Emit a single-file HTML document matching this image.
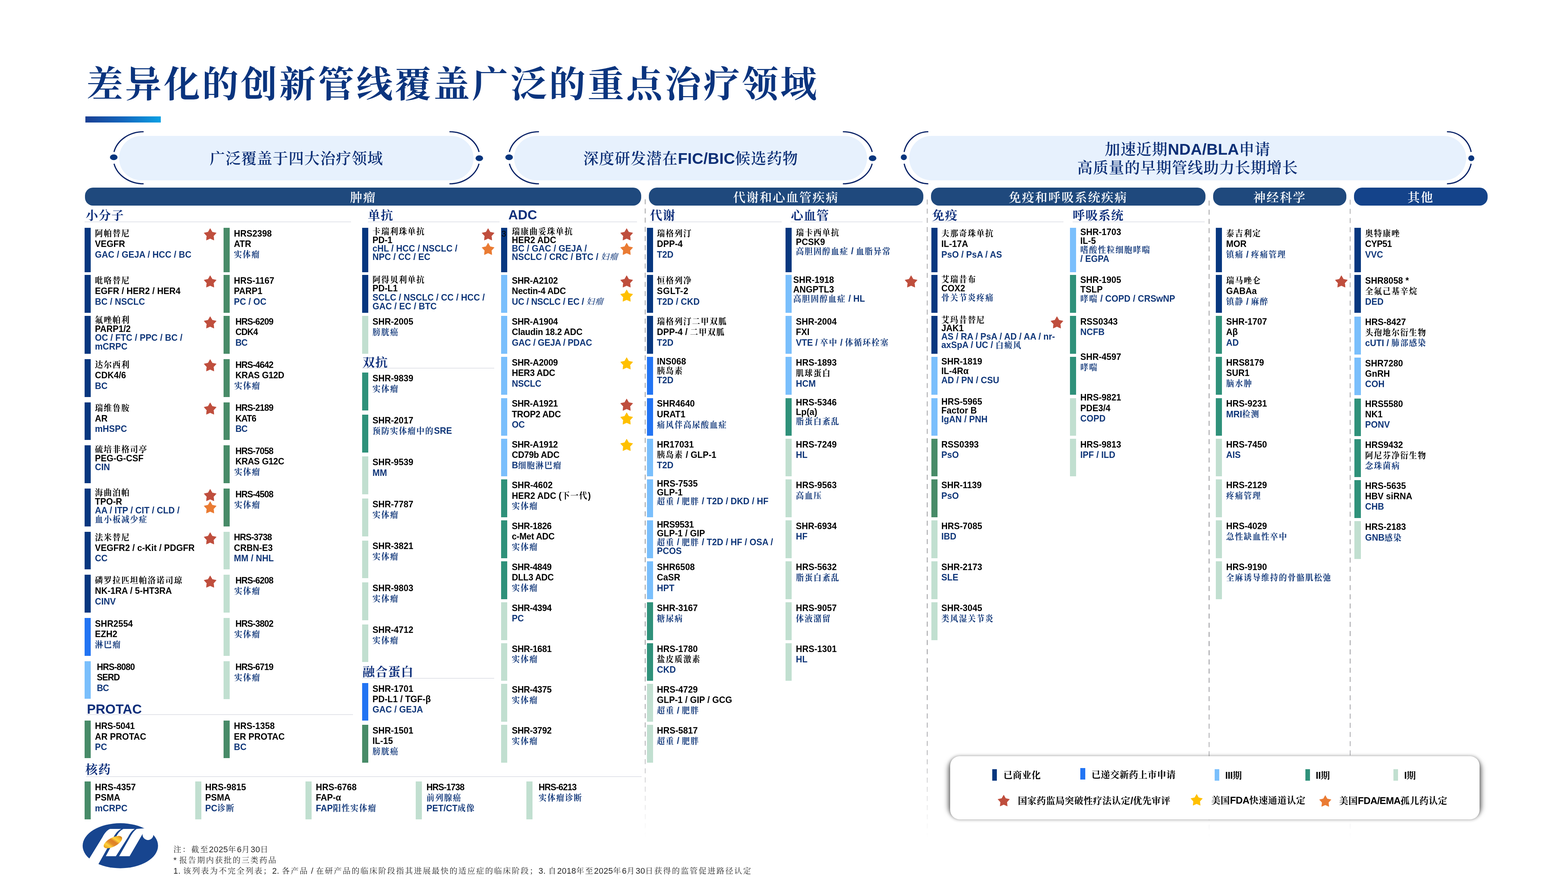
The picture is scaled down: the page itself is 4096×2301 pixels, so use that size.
<!DOCTYPE html>
<html lang="zh-CN"><head><meta charset="utf-8"><title>差异化的创新管线覆盖广泛的重点治疗领域</title>
<style>
html,body{margin:0;padding:0;background:#fff}
body{width:4096px;height:2301px;position:relative;overflow:hidden;will-change:transform;font-family:"Liberation Sans","Noto Serif CJK SC",sans-serif}
.abs{position:absolute}
.b{position:absolute}
.t{position:absolute;white-space:nowrap;font-size:23.6px;font-weight:700;color:#000;letter-spacing:0.05px;transform:scaleX(.965);transform-origin:0 0}
.t div{overflow:visible}
.t .i{color:#0e3578}
.c{font-family:"Noto Serif CJK SC",serif;font-weight:700;font-size:21.6px;line-height:1px;letter-spacing:2.2px;position:relative;top:-0.6px}
.cb{font-family:"Noto Serif CJK SC",serif;font-weight:700;line-height:1px}
.ck{font-family:"Noto Serif CJK SC",serif;font-weight:600;line-height:1px}
.s{position:absolute;overflow:visible}
.title{position:absolute;left:226px;top:145px;font-family:"Noto Serif CJK SC",serif;font-weight:700;font-size:95px;line-height:136px;letter-spacing:5.7px;color:#0a347e;white-space:nowrap}
.tbar{position:absolute;left:223.4px;top:303.7px;width:196.4px;height:16.7px;background:linear-gradient(90deg,#1a3f93 0%,#1466bd 50%,#0aa0e4 100%)}
.pill{position:absolute;top:354.9px;height:116px;border-radius:58px;background:#e7f1fd;display:flex;align-items:center;justify-content:center}
.pt{font-family:"Liberation Sans","Noto Serif CJK SC",sans-serif;font-weight:700;font-size:41px;line-height:48.5px;color:#0c2f76;text-align:center;white-space:nowrap;letter-spacing:0.2px}
.pt .ck{font-size:40px;letter-spacing:1.2px}
.pt{position:relative;top:1.5px}
.hd{position:absolute;top:490px;height:46.6px;border-radius:21px;color:#fff;font-family:"Noto Serif CJK SC",serif;font-weight:600;font-size:32px;line-height:46px;text-align:center;letter-spacing:2.5px;white-space:nowrap}
.sh{position:absolute;font-family:"Noto Serif CJK SC",serif;font-weight:700;font-size:32px;line-height:36px;color:#0e2f7b;white-space:nowrap;letter-spacing:1.5px}
.sh.l{font-family:"Liberation Sans",sans-serif;font-size:34.6px;letter-spacing:0}
.ul{position:absolute;height:1.4px;background:#c6c9d5}
.sup3{position:absolute;font-family:"Liberation Sans",sans-serif;font-size:22px;line-height:26px;color:#000}
.lsh{position:absolute;left:2483.5px;top:1990.5px;width:1379px;height:133.3px;border-radius:18px;background:rgba(0,0,0,.5);box-shadow:0 0 14px 7px rgba(0,0,0,.5)}
.lbox{position:absolute;left:2481.5px;top:1974.5px;width:1383px;height:165.3px;border-radius:25px;background:#fff;box-shadow:0 0 9px 1px rgba(0,0,0,.3)}
.lg{position:absolute;font-family:"Liberation Sans","Noto Serif CJK SC",sans-serif;font-weight:700;font-size:25.4px;line-height:30px;color:#000;white-space:nowrap;letter-spacing:-0.6px}
.lg .cb{letter-spacing:0.5px;font-size:24px}
.fn{position:absolute;left:453px;font-family:"Liberation Sans","Noto Serif CJK SC",sans-serif;font-size:21.5px;line-height:28px;color:#262626;white-space:nowrap}
.fn{letter-spacing:0.5px}
.fn .c{font-size:20.5px;font-weight:400;letter-spacing:2.75px;top:0}
</style></head>
<body>
<div class="title">差异化的创新管线覆盖广泛的重点治疗领域</div>
<div class="tbar"></div>
<div class="pill" style="left:311.3px;width:926.1px"><div class="pt"><span class="ck">广泛覆盖于四大治疗领域</span></div></div>
<div class="pill" style="left:1343.4px;width:922.0px"><div class="pt"><span class="ck">深度研发潜在</span>FIC/BIC<span class="ck">候选药物</span></div></div>
<div class="pill" style="left:2375.0px;width:1455.0px"><div class="pt"><span class="ck">加速近期</span>NDA/BLA<span class="ck">申请</span><br><span class="ck">高质量的早期管线助力长期增长</span></div></div>
<svg class="abs" style="left:0;top:0" width="4096" height="560" viewBox="0 0 4096 560" fill="none" stroke="#0b2468" stroke-width="3.2"><path d="M375.2 344.0 A79.4 68.0 0 0 0 297.8 396.8"/><path d="M297.9 427.6 A79.4 68.0 0 0 0 375.2 480.0"/><ellipse cx="297.1" cy="410.8" rx="9.9" ry="7.5" fill="#07357d" stroke="none"/><path d="M1174.1 344.0 A79.3 68.0 0 0 1 1251.4 396.8"/><path d="M1251.3 427.6 A79.3 68.0 0 0 1 1174.1 480.0"/><ellipse cx="1252.1" cy="413.2" rx="9.9" ry="7.5" fill="#07357d" stroke="none"/><path d="M1407.9 344.0 A79.3 68.0 0 0 0 1330.6 396.8"/><path d="M1330.7 427.6 A79.3 68.0 0 0 0 1407.9 480.0"/><ellipse cx="1329.9" cy="410.8" rx="9.9" ry="7.5" fill="#07357d" stroke="none"/><path d="M2201.8 344.0 A78.6 68.0 0 0 1 2278.4 396.8"/><path d="M2278.3 427.6 A78.6 68.0 0 0 1 2201.8 480.0"/><ellipse cx="2279.4" cy="413.2" rx="9.9" ry="7.5" fill="#07357d" stroke="none"/><path d="M2425.0 344.0 A64.8 68.0 0 0 0 2361.8 396.8"/><path d="M2361.9 427.6 A64.8 68.0 0 0 0 2425.0 480.0"/><ellipse cx="2361.0" cy="410.8" rx="7.9" ry="7.5" fill="#07357d" stroke="none"/><path d="M3779.8 344.0 A64.8 68.0 0 0 1 3843.0 396.8"/><path d="M3842.9 427.6 A64.8 68.0 0 0 1 3779.8 480.0"/><ellipse cx="3843.4" cy="413.2" rx="7.9" ry="7.5" fill="#07357d" stroke="none"/></svg>
<svg class="abs" style="left:0;top:0" width="4096" height="2301" viewBox="0 0 4096 2301"><defs><linearGradient id="dg" gradientUnits="userSpaceOnUse" x1="0" y1="520" x2="0" y2="2190"><stop offset="0" stop-color="#bcbcbe"/><stop offset="0.7" stop-color="#a6a6aa"/><stop offset="0.86" stop-color="#a6a6aa"/><stop offset="1" stop-color="#a6a6aa" stop-opacity="0"/></linearGradient><clipPath id="tp0"><polygon points="1684.0,500 1687.0,500 1686.8,1700 1686.1,2200 1684.9,2200 1684.2,1700"/></clipPath><clipPath id="tp1"><polygon points="2420.7,500 2423.7,500 2423.5,1700 2422.8,2200 2421.6,2200 2420.9,1700"/></clipPath><clipPath id="tp2"><polygon points="3157.0,500 3160.0,500 3159.8,1700 3159.1,2200 3157.9,2200 3157.2,1700"/></clipPath><clipPath id="tp3"><polygon points="3525.5,500 3528.5,500 3528.3,1700 3527.6,2200 3526.4,2200 3525.7,1700"/></clipPath></defs><g stroke="url(#dg)" stroke-width="3.2" stroke-dasharray="13.1 10.87" fill="none"><line x1="1685.5" y1="520.5" x2="1685.5" y2="2190" clip-path="url(#tp0)"/><line x1="2422.2" y1="521.0" x2="2422.2" y2="2190" clip-path="url(#tp1)"/><line x1="3158.5" y1="523.8" x2="3158.5" y2="2190" clip-path="url(#tp2)"/><line x1="3527.0" y1="521.5" x2="3527.0" y2="2190" clip-path="url(#tp3)"/></g></svg>
<div class="hd" style="left:222.0px;width:1453.3px;background:#1f497d">肿瘤</div>
<div class="hd" style="left:1694.5px;width:717.7px;background:#1f497d">代谢和心血管疾病</div>
<div class="hd" style="left:2432.0px;width:716.7px;background:#1f497d">免疫和呼吸系统疾病</div>
<div class="hd" style="left:3168.6px;width:348.6px;background:#1f497d">神经科学</div>
<div class="hd" style="left:3536.8px;width:349.0px;background:#14438a">其他</div>
<div class="sh" style="left:224.0px;top:542.0px">小分子</div><div class="ul" style="left:221.0px;top:579.0px;width:696.0px"></div>
<div class="sh" style="left:961.0px;top:542.0px">单抗</div><div class="ul" style="left:960.6px;top:579.0px;width:344.4px"></div>
<div class="sh l" style="left:1328.0px;top:543.0px">ADC</div><div class="ul" style="left:1328.6px;top:579.0px;width:335.0px"></div>
<div class="sh" style="left:1698.0px;top:542.0px">代谢</div><div class="ul" style="left:1697.0px;top:579.0px;width:345.0px"></div>
<div class="sh" style="left:2066.0px;top:542.0px">心血管</div><div class="ul" style="left:2065.0px;top:579.0px;width:345.0px"></div>
<div class="sh" style="left:2435.0px;top:542.0px">免疫</div><div class="ul" style="left:2433.6px;top:579.0px;width:344.9px"></div>
<div class="sh" style="left:2802.0px;top:542.0px">呼吸系统</div><div class="ul" style="left:2802.0px;top:579.0px;width:344.5px"></div>
<div class="sh" style="left:947.0px;top:925.5px">双抗</div><div class="ul" style="left:946.0px;top:961.0px;width:345.0px"></div>
<div class="sh" style="left:947.0px;top:1734.0px">融合蛋白</div><div class="ul" style="left:946.0px;top:1771.0px;width:345.4px"></div>
<div class="sh l" style="left:227.0px;top:1833.5px">PROTAC</div><div class="ul" style="left:226.0px;top:1866.0px;width:696.0px"></div>
<div class="sh" style="left:223.0px;top:1989.0px">核药</div><div class="ul" style="left:225.0px;top:2028.0px;width:1450.7px"></div>
<div class="b" style="left:220.8px;top:595.0px;height:115.6px;width:16.2px;background:#07377f"></div>
<div class="t" style="left:248.0px;top:596.9px;line-height:27.40px"><div class="n" style="height:27.40px"><span class="c">阿帕替尼</span></div><div class="n" style="height:27.40px">VEGFR</div><div class="i" style="height:27.40px">GAC / GEJA / HCC / BC</div></div>
<div class="b" style="left:220.8px;top:718.0px;height:98.8px;width:16.2px;background:#07377f"></div>
<div class="t" style="left:248.0px;top:719.9px;line-height:27.40px"><div class="n" style="height:27.40px"><span class="c">吡咯替尼</span></div><div class="n" style="height:27.40px">EGFR / HER2 / HER4</div><div class="i" style="height:27.40px">BC / NSCLC</div></div>
<div class="b" style="left:220.8px;top:825.0px;height:98.8px;width:16.2px;background:#07377f"></div>
<div class="t" style="left:248.0px;top:824.5px;line-height:23.30px"><div class="n" style="height:23.30px"><span class="c">氟唑帕利</span></div><div class="n" style="height:23.30px">PARP1/2</div><div class="i" style="height:23.30px">OC / FTC / PPC / BC /</div><div class="i" style="height:23.30px">mCRPC</div></div>
<div class="b" style="left:220.8px;top:938.0px;height:98.8px;width:16.2px;background:#07377f"></div>
<div class="t" style="left:248.0px;top:939.9px;line-height:27.40px"><div class="n" style="height:27.40px"><span class="c">达尔西利</span></div><div class="n" style="height:27.40px">CDK4/6</div><div class="i" style="height:27.40px">BC</div></div>
<div class="b" style="left:220.8px;top:1050.5px;height:98.8px;width:16.2px;background:#07377f"></div>
<div class="t" style="left:248.0px;top:1052.4px;line-height:27.40px"><div class="n" style="height:27.40px"><span class="c">瑞维鲁胺</span></div><div class="n" style="height:27.40px">AR</div><div class="i" style="height:27.40px">mHSPC</div></div>
<div class="b" style="left:220.8px;top:1163.0px;height:98.8px;width:16.2px;background:#07377f"></div>
<div class="t" style="left:248.0px;top:1162.4px;line-height:23.30px"><div class="n" style="height:23.30px"><span class="c">硫培非格司亭</span></div><div class="n" style="height:23.30px">PEG-G-CSF</div><div class="i" style="height:23.30px">CIN</div></div>
<div class="b" style="left:220.8px;top:1276.0px;height:98.8px;width:16.2px;background:#07377f"></div>
<div class="t" style="left:248.0px;top:1275.4px;line-height:23.30px"><div class="n" style="height:23.30px"><span class="c">海曲泊帕</span></div><div class="n" style="height:23.30px">TPO-R</div><div class="i" style="height:23.30px">AA / ITP / CIT / CLD /</div><div class="i" style="height:23.30px"><span class="c">血小板减少症</span></div></div>
<div class="b" style="left:220.8px;top:1388.5px;height:98.8px;width:16.2px;background:#07377f"></div>
<div class="t" style="left:248.0px;top:1390.4px;line-height:27.40px"><div class="n" style="height:27.40px"><span class="c">法米替尼</span></div><div class="n" style="height:27.40px">VEGFR2 / c-Kit / PDGFR</div><div class="i" style="height:27.40px">CC</div></div>
<div class="b" style="left:220.8px;top:1501.0px;height:98.8px;width:16.2px;background:#07377f"></div>
<div class="t" style="left:248.0px;top:1502.9px;line-height:27.40px"><div class="n" style="height:27.40px"><span class="c">磷罗拉匹坦帕洛诺司琼</span></div><div class="n" style="height:27.40px">NK-1RA / 5-HT3RA</div><div class="i" style="height:27.40px">CINV</div></div>
<div class="b" style="left:220.8px;top:1614.0px;height:98.8px;width:16.2px;background:#2274f3"></div>
<div class="t" style="left:248.0px;top:1615.9px;line-height:27.40px"><div class="n" style="height:27.40px">SHR2554</div><div class="n" style="height:27.40px">EZH2</div><div class="i" style="height:27.40px"><span class="c">淋巴瘤</span></div></div>
<div class="b" style="left:220.8px;top:1727.0px;height:98.0px;width:16.2px;background:#7abffc"></div>
<div class="t" style="left:252.6px;top:1728.9px;line-height:27.40px;letter-spacing:-1.00px"><div class="n" style="height:27.40px">HRS-8080</div><div class="n" style="height:27.40px">SERD</div><div class="i" style="height:27.40px">BC</div></div>
<svg class="s" style="left:528.7px;top:591.5px" width="40.0" height="40.0" viewBox="-20 -20 40 40"><polygon points="0.00,-15.20 5.41,-5.84 15.98,-3.59 8.75,4.44 9.87,15.19 0.00,10.80 -9.87,15.19 -8.75,4.44 -15.98,-3.59 -5.41,-5.84" fill="#bf4e3d" stroke="#bf4e3d" stroke-width="1" stroke-linejoin="round"/></svg>
<svg class="s" style="left:528.7px;top:715.0px" width="40.0" height="40.0" viewBox="-20 -20 40 40"><polygon points="0.00,-15.20 5.41,-5.84 15.98,-3.59 8.75,4.44 9.87,15.19 0.00,10.80 -9.87,15.19 -8.75,4.44 -15.98,-3.59 -5.41,-5.84" fill="#bf4e3d" stroke="#bf4e3d" stroke-width="1" stroke-linejoin="round"/></svg>
<svg class="s" style="left:528.7px;top:822.3px" width="40.0" height="40.0" viewBox="-20 -20 40 40"><polygon points="0.00,-15.20 5.41,-5.84 15.98,-3.59 8.75,4.44 9.87,15.19 0.00,10.80 -9.87,15.19 -8.75,4.44 -15.98,-3.59 -5.41,-5.84" fill="#bf4e3d" stroke="#bf4e3d" stroke-width="1" stroke-linejoin="round"/></svg>
<svg class="s" style="left:528.7px;top:934.4px" width="40.0" height="40.0" viewBox="-20 -20 40 40"><polygon points="0.00,-15.20 5.41,-5.84 15.98,-3.59 8.75,4.44 9.87,15.19 0.00,10.80 -9.87,15.19 -8.75,4.44 -15.98,-3.59 -5.41,-5.84" fill="#bf4e3d" stroke="#bf4e3d" stroke-width="1" stroke-linejoin="round"/></svg>
<svg class="s" style="left:528.7px;top:1047.3px" width="40.0" height="40.0" viewBox="-20 -20 40 40"><polygon points="0.00,-15.20 5.41,-5.84 15.98,-3.59 8.75,4.44 9.87,15.19 0.00,10.80 -9.87,15.19 -8.75,4.44 -15.98,-3.59 -5.41,-5.84" fill="#bf4e3d" stroke="#bf4e3d" stroke-width="1" stroke-linejoin="round"/></svg>
<svg class="s" style="left:528.7px;top:1272.5px" width="40.0" height="40.0" viewBox="-20 -20 40 40"><polygon points="0.00,-15.20 5.41,-5.84 15.98,-3.59 8.75,4.44 9.87,15.19 0.00,10.80 -9.87,15.19 -8.75,4.44 -15.98,-3.59 -5.41,-5.84" fill="#bf4e3d" stroke="#bf4e3d" stroke-width="1" stroke-linejoin="round"/></svg>
<svg class="s" style="left:528.7px;top:1385.6px" width="40.0" height="40.0" viewBox="-20 -20 40 40"><polygon points="0.00,-15.20 5.41,-5.84 15.98,-3.59 8.75,4.44 9.87,15.19 0.00,10.80 -9.87,15.19 -8.75,4.44 -15.98,-3.59 -5.41,-5.84" fill="#bf4e3d" stroke="#bf4e3d" stroke-width="1" stroke-linejoin="round"/></svg>
<svg class="s" style="left:528.7px;top:1498.5px" width="40.0" height="40.0" viewBox="-20 -20 40 40"><polygon points="0.00,-15.20 5.41,-5.84 15.98,-3.59 8.75,4.44 9.87,15.19 0.00,10.80 -9.87,15.19 -8.75,4.44 -15.98,-3.59 -5.41,-5.84" fill="#bf4e3d" stroke="#bf4e3d" stroke-width="1" stroke-linejoin="round"/></svg>
<svg class="s" style="left:528.7px;top:1304.6px" width="40.0" height="40.0" viewBox="-20 -20 40 40"><polygon points="0.00,-15.20 5.41,-5.84 15.98,-3.59 8.75,4.44 9.87,15.19 0.00,10.80 -9.87,15.19 -8.75,4.44 -15.98,-3.59 -5.41,-5.84" fill="#ea7b33" stroke="#ea7b33" stroke-width="1" stroke-linejoin="round"/></svg>
<div class="b" style="left:583.5px;top:595.0px;height:115.6px;width:16.2px;background:#488b68"></div>
<div class="t" style="left:610.6px;top:596.9px;line-height:27.40px"><div class="n" style="height:27.40px">HRS2398</div><div class="n" style="height:27.40px">ATR</div><div class="i" style="height:27.40px"><span class="c">实体瘤</span></div></div>
<div class="b" style="left:583.5px;top:718.0px;height:98.8px;width:16.2px;background:#488b68"></div>
<div class="t" style="left:610.6px;top:719.9px;line-height:27.40px"><div class="n" style="height:27.40px">HRS-1167</div><div class="n" style="height:27.40px">PARP1</div><div class="i" style="height:27.40px">PC / OC</div></div>
<div class="b" style="left:583.5px;top:825.0px;height:98.8px;width:16.2px;background:#488b68"></div>
<div class="t" style="left:615.0px;top:826.9px;line-height:27.40px;letter-spacing:-1.00px"><div class="n" style="height:27.40px">HRS-6209</div><div class="n" style="height:27.40px">CDK4</div><div class="i" style="height:27.40px">BC</div></div>
<div class="b" style="left:583.5px;top:938.0px;height:98.8px;width:16.2px;background:#488b68"></div>
<div class="t" style="left:615.0px;top:939.9px;line-height:27.40px;letter-spacing:-1.00px"><div class="n" style="height:27.40px">HRS-4642</div><div class="n" style="height:27.40px;letter-spacing:-0.35px">KRAS G12D</div><div class="i" style="height:27.40px;margin-left:-3.0px"><span class="c">实体瘤</span></div></div>
<div class="b" style="left:583.5px;top:1050.5px;height:98.8px;width:16.2px;background:#488b68"></div>
<div class="t" style="left:615.0px;top:1052.4px;line-height:27.40px;letter-spacing:-1.00px"><div class="n" style="height:27.40px">HRS-2189</div><div class="n" style="height:27.40px">KAT6</div><div class="i" style="height:27.40px">BC</div></div>
<div class="b" style="left:583.5px;top:1163.0px;height:98.8px;width:16.2px;background:#488b68"></div>
<div class="t" style="left:615.0px;top:1164.9px;line-height:27.40px;letter-spacing:-1.00px"><div class="n" style="height:27.40px">HRS-7058</div><div class="n" style="height:27.40px;letter-spacing:-0.35px">KRAS G12C</div><div class="i" style="height:27.40px;margin-left:-3.0px"><span class="c">实体瘤</span></div></div>
<div class="b" style="left:583.5px;top:1276.0px;height:98.8px;width:16.2px;background:#488b68"></div>
<div class="t" style="left:615.0px;top:1277.9px;line-height:27.40px;letter-spacing:-1.00px"><div class="n" style="height:27.40px">HRS-4508</div><div class="i" style="height:27.40px;margin-left:-3.0px"><span class="c">实体瘤</span></div></div>
<div class="b" style="left:583.5px;top:1388.5px;height:98.8px;width:16.2px;background:#c1dfd0"></div>
<div class="t" style="left:610.6px;top:1390.4px;line-height:27.40px"><div class="n" style="height:27.40px;letter-spacing:-1.0px">HRS-3738</div><div class="n" style="height:27.40px">CRBN-E3</div><div class="i" style="height:27.40px">MM / NHL</div></div>
<div class="b" style="left:583.5px;top:1501.0px;height:98.8px;width:16.2px;background:#c1dfd0"></div>
<div class="t" style="left:615.0px;top:1502.9px;line-height:27.40px;letter-spacing:-1.00px"><div class="n" style="height:27.40px">HRS-6208</div><div class="i" style="height:27.40px;margin-left:-3.0px"><span class="c">实体瘤</span></div></div>
<div class="b" style="left:583.5px;top:1614.0px;height:98.8px;width:16.2px;background:#c1dfd0"></div>
<div class="t" style="left:615.0px;top:1615.9px;line-height:27.40px;letter-spacing:-1.00px"><div class="n" style="height:27.40px">HRS-3802</div><div class="i" style="height:27.40px;margin-left:-3.0px"><span class="c">实体瘤</span></div></div>
<div class="b" style="left:583.5px;top:1727.0px;height:98.8px;width:16.2px;background:#c1dfd0"></div>
<div class="t" style="left:615.0px;top:1728.9px;line-height:27.40px;letter-spacing:-1.00px"><div class="n" style="height:27.40px">HRS-6719</div><div class="i" style="height:27.40px;margin-left:-3.0px"><span class="c">实体瘤</span></div></div>
<div class="b" style="left:220.8px;top:1881.5px;height:98.8px;width:16.2px;background:#488b68"></div>
<div class="t" style="left:248.0px;top:1883.4px;line-height:27.40px"><div class="n" style="height:27.40px;letter-spacing:-0.3px">HRS-5041</div><div class="n" style="height:27.40px">AR PROTAC</div><div class="i" style="height:27.40px">PC</div></div>
<div class="b" style="left:583.5px;top:1881.5px;height:98.8px;width:16.2px;background:#488b68"></div>
<div class="t" style="left:610.6px;top:1883.4px;line-height:27.40px"><div class="n" style="height:27.40px">HRS-1358</div><div class="n" style="height:27.40px">ER PROTAC</div><div class="i" style="height:27.40px">BC</div></div>
<div class="b" style="left:220.6px;top:2041.0px;height:98.8px;width:16.2px;background:#488b68"></div>
<div class="t" style="left:248.0px;top:2042.9px;line-height:27.40px"><div class="n" style="height:27.40px">HRS-4357</div><div class="n" style="height:27.40px">PSMA</div><div class="i" style="height:27.40px">mCRPC</div></div>
<div class="b" style="left:509.5px;top:2041.0px;height:98.8px;width:16.2px;background:#c1dfd0"></div>
<div class="t" style="left:536.4px;top:2042.9px;line-height:27.40px"><div class="n" style="height:27.40px">HRS-9815</div><div class="n" style="height:27.40px">PSMA</div><div class="i" style="height:27.40px">PC<span class="c">诊断</span></div></div>
<div class="b" style="left:798.0px;top:2041.0px;height:98.8px;width:16.2px;background:#c1dfd0"></div>
<div class="t" style="left:824.7px;top:2042.9px;line-height:27.40px"><div class="n" style="height:27.40px">HRS-6768</div><div class="n" style="height:27.40px">FAP-α</div><div class="i" style="height:27.40px">FAP<span class="c">阳性实体瘤</span></div></div>
<div class="b" style="left:1086.0px;top:2041.0px;height:98.8px;width:16.2px;background:#c1dfd0"></div>
<div class="t" style="left:1113.8px;top:2042.9px;line-height:27.40px"><div class="n" style="height:27.40px;letter-spacing:-1.0px">HRS-1738</div><div class="i" style="height:27.40px"><span class="c">前列腺癌</span></div><div class="i" style="height:27.40px">PET/CT<span class="c">成像</span></div></div>
<div class="b" style="left:1374.8px;top:2041.0px;height:98.8px;width:16.2px;background:#c1dfd0"></div>
<div class="t" style="left:1406.5px;top:2042.9px;line-height:27.40px"><div class="n" style="height:27.40px;letter-spacing:-1.0px">HRS-6213</div><div class="i" style="height:27.40px"><span class="c">实体瘤诊断</span></div></div>
<div class="b" style="left:946.0px;top:595.0px;height:115.6px;width:16.2px;background:#07377f"></div>
<div class="t" style="left:973.4px;top:594.9px;line-height:21.90px"><div class="n" style="height:21.90px"><span class="c">卡瑞利珠单抗</span></div><div class="n" style="height:21.90px">PD-1</div><div class="i" style="height:21.90px">cHL / HCC / NSCLC /</div><div class="i" style="height:21.90px">NPC / CC / EC</div></div>
<div class="b" style="left:946.0px;top:718.0px;height:98.8px;width:16.2px;background:#07377f"></div>
<div class="t" style="left:973.4px;top:719.4px;line-height:23.10px"><div class="n" style="height:23.10px"><span class="c">阿得贝利单抗</span></div><div class="n" style="height:23.10px">PD-L1</div><div class="i" style="height:23.10px">SCLC / NSCLC / CC / HCC /</div><div class="i" style="height:23.10px">GAC / EC / BTC</div></div>
<div class="b" style="left:946.0px;top:825.0px;height:98.8px;width:16.2px;background:#c1dfd0"></div>
<div class="t" style="left:973.4px;top:826.9px;line-height:27.40px"><div class="n" style="height:27.40px">SHR-2005</div><div class="i" style="height:27.40px"><span class="c">膀胱癌</span></div></div>
<svg class="s" style="left:1254.5px;top:591.5px" width="40.0" height="40.0" viewBox="-20 -20 40 40"><polygon points="0.00,-15.20 5.41,-5.84 15.98,-3.59 8.75,4.44 9.87,15.19 0.00,10.80 -9.87,15.19 -8.75,4.44 -15.98,-3.59 -5.41,-5.84" fill="#bf4e3d" stroke="#bf4e3d" stroke-width="1" stroke-linejoin="round"/></svg>
<svg class="s" style="left:1254.5px;top:629.5px" width="40.0" height="40.0" viewBox="-20 -20 40 40"><polygon points="0.00,-15.20 5.41,-5.84 15.98,-3.59 8.75,4.44 9.87,15.19 0.00,10.80 -9.87,15.19 -8.75,4.44 -15.98,-3.59 -5.41,-5.84" fill="#ea7b33" stroke="#ea7b33" stroke-width="1" stroke-linejoin="round"/></svg>
<div class="b" style="left:946.0px;top:973.0px;height:98.8px;width:16.2px;background:#2f917a"></div>
<div class="t" style="left:973.4px;top:974.9px;line-height:27.40px"><div class="n" style="height:27.40px">SHR-9839</div><div class="i" style="height:27.40px"><span class="c">实体瘤</span></div></div>
<div class="b" style="left:946.0px;top:1083.0px;height:98.8px;width:16.2px;background:#2f917a"></div>
<div class="t" style="left:973.4px;top:1084.9px;line-height:27.40px"><div class="n" style="height:27.40px">SHR-2017</div><div class="i" style="height:27.40px"><span class="c">预防实体瘤中的</span>SRE</div></div>
<div class="b" style="left:946.0px;top:1192.4px;height:98.8px;width:16.2px;background:#c1dfd0"></div>
<div class="t" style="left:973.4px;top:1194.3px;line-height:27.40px"><div class="n" style="height:27.40px">SHR-9539</div><div class="i" style="height:27.40px">MM</div></div>
<div class="b" style="left:946.0px;top:1302.0px;height:98.8px;width:16.2px;background:#c1dfd0"></div>
<div class="t" style="left:973.4px;top:1303.9px;line-height:27.40px"><div class="n" style="height:27.40px">SHR-7787</div><div class="i" style="height:27.40px"><span class="c">实体瘤</span></div></div>
<div class="b" style="left:946.0px;top:1411.5px;height:98.8px;width:16.2px;background:#c1dfd0"></div>
<div class="t" style="left:973.4px;top:1413.4px;line-height:27.40px"><div class="n" style="height:27.40px">SHR-3821</div><div class="i" style="height:27.40px"><span class="c">实体瘤</span></div></div>
<div class="b" style="left:946.0px;top:1521.0px;height:98.8px;width:16.2px;background:#c1dfd0"></div>
<div class="t" style="left:973.4px;top:1522.9px;line-height:27.40px"><div class="n" style="height:27.40px">SHR-9803</div><div class="i" style="height:27.40px"><span class="c">实体瘤</span></div></div>
<div class="b" style="left:946.0px;top:1630.5px;height:98.8px;width:16.2px;background:#c1dfd0"></div>
<div class="t" style="left:973.4px;top:1632.4px;line-height:27.40px"><div class="n" style="height:27.40px">SHR-4712</div><div class="i" style="height:27.40px"><span class="c">实体瘤</span></div></div>
<div class="b" style="left:946.0px;top:1783.6px;height:98.8px;width:16.2px;background:#2274f3"></div>
<div class="t" style="left:973.4px;top:1785.5px;line-height:27.40px"><div class="n" style="height:27.40px">SHR-1701</div><div class="n" style="height:27.40px">PD-L1 / TGF-β</div><div class="i" style="height:27.40px">GAC / GEJA</div></div>
<div class="b" style="left:946.0px;top:1893.0px;height:98.8px;width:16.2px;background:#488b68"></div>
<div class="t" style="left:973.4px;top:1894.9px;line-height:27.40px"><div class="n" style="height:27.40px">SHR-1501</div><div class="n" style="height:27.40px">IL-15</div><div class="i" style="height:27.40px"><span class="c">膀胱癌</span></div></div>
<div class="b" style="left:1309.0px;top:595.0px;height:115.6px;width:16.2px;background:#07377f"></div>
<div class="t" style="left:1336.6px;top:594.9px;line-height:21.90px"><div class="n" style="height:21.90px"><span class="c">瑞康曲妥珠单抗</span></div><div class="n" style="height:21.90px">HER2 ADC</div><div class="i" style="height:21.90px">BC / GAC / GEJA /</div><div class="i" style="height:21.90px">NSCLC / CRC / BTC / <span class="c" style="font-style:italic;font-weight:500">妇瘤</span></div></div>
<div class="sup3" style="left:1310px;top:597.5px">3</div>
<div class="b" style="left:1309.0px;top:718.0px;height:98.8px;width:16.2px;background:#7abffc"></div>
<div class="t" style="left:1336.6px;top:719.9px;line-height:27.40px;letter-spacing:-0.30px"><div class="n" style="height:27.40px">SHR-A2102</div><div class="n" style="height:27.40px">Nectin-4 ADC</div><div class="i" style="height:27.40px">UC / NSCLC / EC / <span class="c" style="font-style:italic;font-weight:500">妇瘤</span></div></div>
<div class="b" style="left:1309.0px;top:825.0px;height:98.8px;width:16.2px;background:#7abffc"></div>
<div class="t" style="left:1336.6px;top:826.9px;line-height:27.40px;letter-spacing:-0.30px"><div class="n" style="height:27.40px">SHR-A1904</div><div class="n" style="height:27.40px">Claudin 18.2 ADC</div><div class="i" style="height:27.40px">GAC / GEJA / PDAC</div></div>
<div class="b" style="left:1309.0px;top:932.0px;height:98.8px;width:16.2px;background:#7abffc"></div>
<div class="t" style="left:1336.6px;top:933.9px;line-height:27.40px;letter-spacing:-0.30px"><div class="n" style="height:27.40px">SHR-A2009</div><div class="n" style="height:27.40px">HER3 ADC</div><div class="i" style="height:27.40px">NSCLC</div></div>
<div class="b" style="left:1309.0px;top:1039.5px;height:98.8px;width:16.2px;background:#7abffc"></div>
<div class="t" style="left:1336.6px;top:1041.4px;line-height:27.40px;letter-spacing:-0.30px"><div class="n" style="height:27.40px">SHR-A1921</div><div class="n" style="height:27.40px">TROP2 ADC</div><div class="i" style="height:27.40px">OC</div></div>
<div class="b" style="left:1309.0px;top:1145.7px;height:98.8px;width:16.2px;background:#7abffc"></div>
<div class="t" style="left:1336.6px;top:1147.6px;line-height:27.40px;letter-spacing:-0.30px"><div class="n" style="height:27.40px">SHR-A1912</div><div class="n" style="height:27.40px">CD79b ADC</div><div class="i" style="height:27.40px">B<span class="c">细胞淋巴瘤</span></div></div>
<div class="b" style="left:1309.0px;top:1252.4px;height:98.8px;width:16.2px;background:#2f917a"></div>
<div class="t" style="left:1336.6px;top:1254.3px;line-height:27.40px"><div class="n" style="height:27.40px">SHR-4602</div><div class="n" style="height:27.40px">HER2 ADC (<span class="c">下一代</span>)</div><div class="i" style="height:27.40px"><span class="c">实体瘤</span></div></div>
<div class="b" style="left:1309.0px;top:1359.0px;height:98.8px;width:16.2px;background:#2f917a"></div>
<div class="t" style="left:1336.6px;top:1360.9px;line-height:27.40px;letter-spacing:-0.30px"><div class="n" style="height:27.40px">SHR-1826</div><div class="n" style="height:27.40px">c-Met ADC</div><div class="i" style="height:27.40px"><span class="c">实体瘤</span></div></div>
<div class="b" style="left:1309.0px;top:1466.0px;height:98.8px;width:16.2px;background:#2f917a"></div>
<div class="t" style="left:1336.6px;top:1467.9px;line-height:27.40px;letter-spacing:-0.30px"><div class="n" style="height:27.40px">SHR-4849</div><div class="n" style="height:27.40px">DLL3 ADC</div><div class="i" style="height:27.40px"><span class="c">实体瘤</span></div></div>
<div class="b" style="left:1309.0px;top:1573.0px;height:98.8px;width:16.2px;background:#c1dfd0"></div>
<div class="t" style="left:1336.6px;top:1574.9px;line-height:27.40px;letter-spacing:-0.30px"><div class="n" style="height:27.40px">SHR-4394</div><div class="i" style="height:27.40px">PC</div></div>
<div class="b" style="left:1309.0px;top:1679.6px;height:98.8px;width:16.2px;background:#c1dfd0"></div>
<div class="t" style="left:1336.6px;top:1681.5px;line-height:27.40px;letter-spacing:-0.30px"><div class="n" style="height:27.40px">SHR-1681</div><div class="i" style="height:27.40px"><span class="c">实体瘤</span></div></div>
<div class="b" style="left:1309.0px;top:1786.0px;height:98.8px;width:16.2px;background:#c1dfd0"></div>
<div class="t" style="left:1336.6px;top:1787.9px;line-height:27.40px;letter-spacing:-0.30px"><div class="n" style="height:27.40px">SHR-4375</div><div class="i" style="height:27.40px"><span class="c">实体瘤</span></div></div>
<div class="b" style="left:1309.0px;top:1893.0px;height:98.8px;width:16.2px;background:#c1dfd0"></div>
<div class="t" style="left:1336.6px;top:1894.9px;line-height:27.40px;letter-spacing:-0.30px"><div class="n" style="height:27.40px">SHR-3792</div><div class="i" style="height:27.40px"><span class="c">实体瘤</span></div></div>
<svg class="s" style="left:1617.2px;top:591.5px" width="40.0" height="40.0" viewBox="-20 -20 40 40"><polygon points="0.00,-15.20 5.41,-5.84 15.98,-3.59 8.75,4.44 9.87,15.19 0.00,10.80 -9.87,15.19 -8.75,4.44 -15.98,-3.59 -5.41,-5.84" fill="#bf4e3d" stroke="#bf4e3d" stroke-width="1" stroke-linejoin="round"/></svg>
<svg class="s" style="left:1617.2px;top:629.5px" width="40.0" height="40.0" viewBox="-20 -20 40 40"><polygon points="0.00,-15.20 5.41,-5.84 15.98,-3.59 8.75,4.44 9.87,15.19 0.00,10.80 -9.87,15.19 -8.75,4.44 -15.98,-3.59 -5.41,-5.84" fill="#ea7b33" stroke="#ea7b33" stroke-width="1" stroke-linejoin="round"/></svg>
<svg class="s" style="left:1617.2px;top:715.0px" width="40.0" height="40.0" viewBox="-20 -20 40 40"><polygon points="0.00,-15.20 5.41,-5.84 15.98,-3.59 8.75,4.44 9.87,15.19 0.00,10.80 -9.87,15.19 -8.75,4.44 -15.98,-3.59 -5.41,-5.84" fill="#bf4e3d" stroke="#bf4e3d" stroke-width="1" stroke-linejoin="round"/></svg>
<svg class="s" style="left:1617.2px;top:751.7px" width="40.0" height="40.0" viewBox="-20 -20 40 40"><polygon points="0.00,-15.20 5.41,-5.84 15.98,-3.59 8.75,4.44 9.87,15.19 0.00,10.80 -9.87,15.19 -8.75,4.44 -15.98,-3.59 -5.41,-5.84" fill="#ffc000" stroke="#ffc000" stroke-width="1" stroke-linejoin="round"/></svg>
<svg class="s" style="left:1617.2px;top:929.0px" width="40.0" height="40.0" viewBox="-20 -20 40 40"><polygon points="0.00,-15.20 5.41,-5.84 15.98,-3.59 8.75,4.44 9.87,15.19 0.00,10.80 -9.87,15.19 -8.75,4.44 -15.98,-3.59 -5.41,-5.84" fill="#ffc000" stroke="#ffc000" stroke-width="1" stroke-linejoin="round"/></svg>
<svg class="s" style="left:1617.2px;top:1036.5px" width="40.0" height="40.0" viewBox="-20 -20 40 40"><polygon points="0.00,-15.20 5.41,-5.84 15.98,-3.59 8.75,4.44 9.87,15.19 0.00,10.80 -9.87,15.19 -8.75,4.44 -15.98,-3.59 -5.41,-5.84" fill="#bf4e3d" stroke="#bf4e3d" stroke-width="1" stroke-linejoin="round"/></svg>
<svg class="s" style="left:1617.2px;top:1072.8px" width="40.0" height="40.0" viewBox="-20 -20 40 40"><polygon points="0.00,-15.20 5.41,-5.84 15.98,-3.59 8.75,4.44 9.87,15.19 0.00,10.80 -9.87,15.19 -8.75,4.44 -15.98,-3.59 -5.41,-5.84" fill="#ffc000" stroke="#ffc000" stroke-width="1" stroke-linejoin="round"/></svg>
<svg class="s" style="left:1617.2px;top:1142.2px" width="40.0" height="40.0" viewBox="-20 -20 40 40"><polygon points="0.00,-15.20 5.41,-5.84 15.98,-3.59 8.75,4.44 9.87,15.19 0.00,10.80 -9.87,15.19 -8.75,4.44 -15.98,-3.59 -5.41,-5.84" fill="#ffc000" stroke="#ffc000" stroke-width="1" stroke-linejoin="round"/></svg>
<div class="b" style="left:1689.5px;top:595.0px;height:115.6px;width:16.2px;background:#07377f"></div>
<div class="t" style="left:1716.3px;top:596.9px;line-height:27.40px"><div class="n" style="height:27.40px"><span class="c">瑞格列汀</span></div><div class="n" style="height:27.40px">DPP-4</div><div class="i" style="height:27.40px">T2D</div></div>
<div class="b" style="left:1689.5px;top:718.0px;height:98.8px;width:16.2px;background:#07377f"></div>
<div class="t" style="left:1716.3px;top:719.9px;line-height:27.40px"><div class="n" style="height:27.40px"><span class="c">恒格列净</span></div><div class="n" style="height:27.40px;letter-spacing:0.8px">SGLT-2</div><div class="i" style="height:27.40px">T2D / CKD</div></div>
<div class="b" style="left:1689.5px;top:825.0px;height:98.8px;width:16.2px;background:#07377f"></div>
<div class="t" style="left:1716.3px;top:826.9px;line-height:27.40px"><div class="n" style="height:27.40px"><span class="c">瑞格列汀二甲双胍</span></div><div class="n" style="height:27.40px">DPP-4 / <span class="c">二甲双胍</span></div><div class="i" style="height:27.40px">T2D</div></div>
<div class="b" style="left:1689.5px;top:932.0px;height:98.8px;width:16.2px;background:#2274f3"></div>
<div class="t" style="left:1716.3px;top:932.3px;line-height:24.60px"><div class="n" style="height:24.60px">INS068</div><div class="n" style="height:24.60px"><span class="c">胰岛素</span></div><div class="i" style="height:24.60px">T2D</div></div>
<div class="b" style="left:1689.5px;top:1039.5px;height:98.8px;width:16.2px;background:#2274f3"></div>
<div class="t" style="left:1716.3px;top:1041.4px;line-height:27.40px"><div class="n" style="height:27.40px">SHR4640</div><div class="n" style="height:27.40px">URAT1</div><div class="i" style="height:27.40px"><span class="c">痛风伴高尿酸血症</span></div></div>
<div class="b" style="left:1689.5px;top:1145.7px;height:98.8px;width:16.2px;background:#7abffc"></div>
<div class="t" style="left:1716.3px;top:1147.6px;line-height:27.40px"><div class="n" style="height:27.40px">HR17031</div><div class="n" style="height:27.40px"><span class="c">胰岛素</span> / GLP-1</div><div class="i" style="height:27.40px">T2D</div></div>
<div class="b" style="left:1689.5px;top:1252.4px;height:98.8px;width:16.2px;background:#7abffc"></div>
<div class="t" style="left:1716.3px;top:1252.1px;line-height:23.00px"><div class="n" style="height:23.00px">HRS-7535</div><div class="n" style="height:23.00px">GLP-1</div><div class="i" style="height:23.00px"><span class="c">超重</span> / <span class="c">肥胖</span> / T2D / DKD / HF</div></div>
<div class="b" style="left:1689.5px;top:1359.0px;height:98.8px;width:16.2px;background:#7abffc"></div>
<div class="t" style="left:1716.3px;top:1358.8px;line-height:23.20px"><div class="n" style="height:23.20px;letter-spacing:-0.35px">HRS9531</div><div class="n" style="height:23.20px">GLP-1 / GIP</div><div class="i" style="height:23.20px"><span class="c">超重</span> / <span class="c">肥胖</span> / T2D / HF / OSA /</div><div class="i" style="height:23.20px">PCOS</div></div>
<div class="b" style="left:1689.5px;top:1466.0px;height:98.8px;width:16.2px;background:#7abffc"></div>
<div class="t" style="left:1716.3px;top:1467.9px;line-height:27.40px"><div class="n" style="height:27.40px">SHR6508</div><div class="n" style="height:27.40px">CaSR</div><div class="i" style="height:27.40px">HPT</div></div>
<div class="b" style="left:1689.5px;top:1573.0px;height:98.8px;width:16.2px;background:#2f917a"></div>
<div class="t" style="left:1716.3px;top:1574.9px;line-height:27.40px"><div class="n" style="height:27.40px">SHR-3167</div><div class="i" style="height:27.40px"><span class="c">糖尿病</span></div></div>
<div class="b" style="left:1689.5px;top:1679.6px;height:98.8px;width:16.2px;background:#2f917a"></div>
<div class="t" style="left:1716.3px;top:1681.5px;line-height:27.40px"><div class="n" style="height:27.40px">HRS-1780</div><div class="n" style="height:27.40px"><span class="c">盐皮质激素</span></div><div class="i" style="height:27.40px">CKD</div></div>
<div class="b" style="left:1689.5px;top:1786.0px;height:98.8px;width:16.2px;background:#c1dfd0"></div>
<div class="t" style="left:1716.3px;top:1787.9px;line-height:27.40px"><div class="n" style="height:27.40px">HRS-4729</div><div class="n" style="height:27.40px">GLP-1 / GIP / GCG</div><div class="i" style="height:27.40px"><span class="c">超重</span> / <span class="c">肥胖</span></div></div>
<div class="b" style="left:1689.5px;top:1893.0px;height:98.8px;width:16.2px;background:#c1dfd0"></div>
<div class="t" style="left:1716.3px;top:1894.9px;line-height:27.40px"><div class="n" style="height:27.40px">HRS-5817</div><div class="i" style="height:27.40px"><span class="c">超重</span> / <span class="c">肥胖</span></div></div>
<div class="b" style="left:2052.2px;top:595.0px;height:115.6px;width:16.2px;background:#07377f"></div>
<div class="t" style="left:2079.0px;top:595.3px;line-height:24.60px"><div class="n" style="height:24.60px"><span class="c">瑞卡西单抗</span></div><div class="n" style="height:24.60px">PCSK9</div><div class="i" style="height:24.60px"><span class="c">高胆固醇血症</span> / <span class="c">血脂异常</span></div></div>
<div class="b" style="left:2052.2px;top:718.0px;height:98.8px;width:16.2px;background:#7abffc"></div>
<div class="t" style="left:2072.0px;top:719.0px;line-height:24.60px"><div class="n" style="height:24.60px">SHR-1918</div><div class="n" style="height:24.60px">ANGPTL3</div><div class="i" style="height:24.60px"><span class="c">高胆固醇血症</span> / HL</div></div>
<div class="b" style="left:2052.2px;top:825.0px;height:98.8px;width:16.2px;background:#7abffc"></div>
<div class="t" style="left:2079.0px;top:826.9px;line-height:27.40px"><div class="n" style="height:27.40px">SHR-2004</div><div class="n" style="height:27.40px">FXI</div><div class="i" style="height:27.40px">VTE / <span class="c">卒中</span> / <span class="c">体循环栓塞</span></div></div>
<div class="b" style="left:2052.2px;top:932.0px;height:98.8px;width:16.2px;background:#7abffc"></div>
<div class="t" style="left:2079.0px;top:933.9px;line-height:27.40px"><div class="n" style="height:27.40px">HRS-1893</div><div class="n" style="height:27.40px"><span class="c">肌球蛋白</span></div><div class="i" style="height:27.40px">HCM</div></div>
<div class="b" style="left:2052.2px;top:1039.5px;height:98.8px;width:16.2px;background:#2f917a"></div>
<div class="t" style="left:2079.0px;top:1039.2px;line-height:24.50px"><div class="n" style="height:24.50px">HRS-5346</div><div class="n" style="height:24.50px">Lp(a)</div><div class="i" style="height:24.50px"><span class="c">脂蛋白紊乱</span></div></div>
<div class="b" style="left:2052.2px;top:1145.7px;height:98.8px;width:16.2px;background:#c1dfd0"></div>
<div class="t" style="left:2079.0px;top:1147.6px;line-height:27.40px"><div class="n" style="height:27.40px">HRS-7249</div><div class="i" style="height:27.40px">HL</div></div>
<div class="b" style="left:2052.2px;top:1252.4px;height:98.8px;width:16.2px;background:#c1dfd0"></div>
<div class="t" style="left:2079.0px;top:1254.3px;line-height:27.40px"><div class="n" style="height:27.40px">HRS-9563</div><div class="i" style="height:27.40px"><span class="c">高血压</span></div></div>
<div class="b" style="left:2052.2px;top:1359.0px;height:98.8px;width:16.2px;background:#c1dfd0"></div>
<div class="t" style="left:2079.0px;top:1360.9px;line-height:27.40px"><div class="n" style="height:27.40px">SHR-6934</div><div class="i" style="height:27.40px">HF</div></div>
<div class="b" style="left:2052.2px;top:1466.0px;height:98.8px;width:16.2px;background:#c1dfd0"></div>
<div class="t" style="left:2079.0px;top:1467.9px;line-height:27.40px"><div class="n" style="height:27.40px">HRS-5632</div><div class="i" style="height:27.40px"><span class="c">脂蛋白紊乱</span></div></div>
<div class="b" style="left:2052.2px;top:1573.0px;height:98.8px;width:16.2px;background:#c1dfd0"></div>
<div class="t" style="left:2079.0px;top:1574.9px;line-height:27.40px"><div class="n" style="height:27.40px">HRS-9057</div><div class="i" style="height:27.40px"><span class="c">体液潴留</span></div></div>
<div class="b" style="left:2052.2px;top:1679.6px;height:98.8px;width:16.2px;background:#c1dfd0"></div>
<div class="t" style="left:2079.0px;top:1681.5px;line-height:27.40px"><div class="n" style="height:27.40px">HRS-1301</div><div class="i" style="height:27.40px">HL</div></div>
<svg class="s" style="left:2360.0px;top:715.0px" width="40.0" height="40.0" viewBox="-20 -20 40 40"><polygon points="0.00,-15.20 5.41,-5.84 15.98,-3.59 8.75,4.44 9.87,15.19 0.00,10.80 -9.87,15.19 -8.75,4.44 -15.98,-3.59 -5.41,-5.84" fill="#bf4e3d" stroke="#bf4e3d" stroke-width="1" stroke-linejoin="round"/></svg>
<div class="b" style="left:2432.7px;top:595.0px;height:115.6px;width:16.2px;background:#07377f"></div>
<div class="t" style="left:2459.0px;top:596.9px;line-height:27.40px"><div class="n" style="height:27.40px"><span class="c">夫那奇珠单抗</span></div><div class="n" style="height:27.40px">IL-17A</div><div class="i" style="height:27.40px">PsO / PsA / AS</div></div>
<div class="b" style="left:2432.7px;top:718.0px;height:98.8px;width:16.2px;background:#07377f"></div>
<div class="t" style="left:2459.0px;top:717.4px;line-height:24.00px"><div class="n" style="height:24.00px"><span class="c">艾瑞昔布</span></div><div class="n" style="height:24.00px">COX2</div><div class="i" style="height:24.00px"><span class="c">骨关节炎疼痛</span></div></div>
<div class="b" style="left:2432.7px;top:825.0px;height:98.8px;width:16.2px;background:#07377f"></div>
<div class="t" style="left:2459.0px;top:824.1px;line-height:22.10px;letter-spacing:0.05px"><div class="n" style="height:22.10px"><span class="c">艾玛昔替尼</span></div><div class="n" style="height:22.10px">JAK1</div><div class="i" style="height:22.10px">AS / RA / PsA / AD / AA / nr-</div><div class="i" style="height:22.10px">axSpA / UC / <span class="c">白癜风</span></div></div>
<div class="b" style="left:2432.7px;top:932.0px;height:98.8px;width:16.2px;background:#7abffc"></div>
<div class="t" style="left:2459.0px;top:932.3px;line-height:24.60px"><div class="n" style="height:24.60px">SHR-1819</div><div class="n" style="height:24.60px">IL-4Rα</div><div class="i" style="height:24.60px">AD / PN / CSU</div></div>
<div class="b" style="left:2432.7px;top:1039.5px;height:98.8px;width:16.2px;background:#7abffc"></div>
<div class="t" style="left:2459.0px;top:1038.4px;line-height:23.00px"><div class="n" style="height:23.00px">HRS-5965</div><div class="n" style="height:23.00px">Factor B</div><div class="i" style="height:23.00px">IgAN / PNH</div></div>
<div class="b" style="left:2432.7px;top:1145.7px;height:98.8px;width:16.2px;background:#488b68"></div>
<div class="t" style="left:2459.0px;top:1147.6px;line-height:27.40px"><div class="n" style="height:27.40px">RSS0393</div><div class="i" style="height:27.40px">PsO</div></div>
<div class="b" style="left:2432.7px;top:1252.4px;height:98.8px;width:16.2px;background:#488b68"></div>
<div class="t" style="left:2459.0px;top:1254.3px;line-height:27.40px"><div class="n" style="height:27.40px">SHR-1139</div><div class="i" style="height:27.40px">PsO</div></div>
<div class="b" style="left:2432.7px;top:1359.0px;height:98.8px;width:16.2px;background:#c1dfd0"></div>
<div class="t" style="left:2459.0px;top:1360.9px;line-height:27.40px"><div class="n" style="height:27.40px">HRS-7085</div><div class="i" style="height:27.40px">IBD</div></div>
<div class="b" style="left:2432.7px;top:1466.0px;height:98.8px;width:16.2px;background:#c1dfd0"></div>
<div class="t" style="left:2459.0px;top:1467.9px;line-height:27.40px"><div class="n" style="height:27.40px">SHR-2173</div><div class="i" style="height:27.40px">SLE</div></div>
<div class="b" style="left:2432.7px;top:1573.0px;height:98.8px;width:16.2px;background:#c1dfd0"></div>
<div class="t" style="left:2459.0px;top:1574.9px;line-height:27.40px"><div class="n" style="height:27.40px">SHR-3045</div><div class="i" style="height:27.40px"><span class="c">类风湿关节炎</span></div></div>
<svg class="s" style="left:2740.8px;top:822.3px" width="40.0" height="40.0" viewBox="-20 -20 40 40"><polygon points="0.00,-15.20 5.41,-5.84 15.98,-3.59 8.75,4.44 9.87,15.19 0.00,10.80 -9.87,15.19 -8.75,4.44 -15.98,-3.59 -5.41,-5.84" fill="#bf4e3d" stroke="#bf4e3d" stroke-width="1" stroke-linejoin="round"/></svg>
<div class="b" style="left:2795.3px;top:595.0px;height:115.6px;width:16.2px;background:#7abffc"></div>
<div class="t" style="left:2821.8px;top:595.0px;line-height:23.30px"><div class="n" style="height:23.30px">SHR-1703</div><div class="n" style="height:23.30px">IL-5</div><div class="i" style="height:23.30px"><span class="c">嗜酸性粒细胞哮喘</span></div><div class="i" style="height:23.30px">/ EGPA</div></div>
<div class="b" style="left:2795.3px;top:718.0px;height:98.8px;width:16.2px;background:#2f917a"></div>
<div class="t" style="left:2821.8px;top:719.0px;line-height:24.60px"><div class="n" style="height:24.60px">SHR-1905</div><div class="n" style="height:24.60px">TSLP</div><div class="i" style="height:24.60px"><span class="c">哮喘</span> / COPD / CRSwNP</div></div>
<div class="b" style="left:2795.3px;top:825.0px;height:98.8px;width:16.2px;background:#2f917a"></div>
<div class="t" style="left:2821.8px;top:826.9px;line-height:27.40px"><div class="n" style="height:27.40px">RSS0343</div><div class="i" style="height:27.40px">NCFB</div></div>
<div class="b" style="left:2795.3px;top:932.0px;height:98.8px;width:16.2px;background:#2f917a"></div>
<div class="t" style="left:2821.8px;top:918.8px;line-height:27.60px"><div class="n" style="height:27.60px">SHR-4597</div><div class="i" style="height:27.60px"><span class="c">哮喘</span></div></div>
<div class="b" style="left:2795.3px;top:1039.5px;height:98.8px;width:16.2px;background:#c1dfd0"></div>
<div class="t" style="left:2821.8px;top:1025.4px;line-height:27.20px"><div class="n" style="height:27.20px">HRS-9821</div><div class="n" style="height:27.20px">PDE3/4</div><div class="i" style="height:27.20px">COPD</div></div>
<div class="b" style="left:2795.3px;top:1145.7px;height:98.8px;width:16.2px;background:#c1dfd0"></div>
<div class="t" style="left:2821.8px;top:1147.6px;line-height:27.40px"><div class="n" style="height:27.40px">HRS-9813</div><div class="i" style="height:27.40px">IPF / ILD</div></div>
<div class="b" style="left:3175.8px;top:595.0px;height:115.6px;width:16.2px;background:#07377f"></div>
<div class="t" style="left:3203.0px;top:596.9px;line-height:27.40px"><div class="n" style="height:27.40px"><span class="c">泰吉利定</span></div><div class="n" style="height:27.40px">MOR</div><div class="i" style="height:27.40px"><span class="c">镇痛</span> / <span class="c">疼痛管理</span></div></div>
<div class="b" style="left:3175.8px;top:718.0px;height:98.8px;width:16.2px;background:#07377f"></div>
<div class="t" style="left:3203.0px;top:719.9px;line-height:27.40px"><div class="n" style="height:27.40px"><span class="c">瑞马唑仑</span></div><div class="n" style="height:27.40px">GABAa</div><div class="i" style="height:27.40px"><span class="c">镇静</span> / <span class="c">麻醉</span></div></div>
<div class="b" style="left:3175.8px;top:825.0px;height:98.8px;width:16.2px;background:#2f917a"></div>
<div class="t" style="left:3203.0px;top:826.9px;line-height:27.40px"><div class="n" style="height:27.40px">SHR-1707</div><div class="n" style="height:27.40px">Aβ</div><div class="i" style="height:27.40px">AD</div></div>
<div class="b" style="left:3175.8px;top:932.0px;height:98.8px;width:16.2px;background:#2f917a"></div>
<div class="t" style="left:3203.0px;top:933.9px;line-height:27.40px"><div class="n" style="height:27.40px">HRS8179</div><div class="n" style="height:27.40px">SUR1</div><div class="i" style="height:27.40px"><span class="c">脑水肿</span></div></div>
<div class="b" style="left:3175.8px;top:1039.5px;height:98.8px;width:16.2px;background:#2f917a"></div>
<div class="t" style="left:3203.0px;top:1041.4px;line-height:27.40px"><div class="n" style="height:27.40px">HRS-9231</div><div class="i" style="height:27.40px">MRI<span class="c">检测</span></div></div>
<div class="b" style="left:3175.8px;top:1145.7px;height:98.8px;width:16.2px;background:#c1dfd0"></div>
<div class="t" style="left:3203.0px;top:1147.6px;line-height:27.40px"><div class="n" style="height:27.40px">HRS-7450</div><div class="i" style="height:27.40px">AIS</div></div>
<div class="b" style="left:3175.8px;top:1252.4px;height:98.8px;width:16.2px;background:#c1dfd0"></div>
<div class="t" style="left:3203.0px;top:1254.3px;line-height:27.40px"><div class="n" style="height:27.40px">HRS-2129</div><div class="i" style="height:27.40px"><span class="c">疼痛管理</span></div></div>
<div class="b" style="left:3175.8px;top:1359.0px;height:98.8px;width:16.2px;background:#c1dfd0"></div>
<div class="t" style="left:3203.0px;top:1360.9px;line-height:27.40px"><div class="n" style="height:27.40px">HRS-4029</div><div class="i" style="height:27.40px"><span class="c">急性缺血性卒中</span></div></div>
<div class="b" style="left:3175.8px;top:1466.0px;height:98.8px;width:16.2px;background:#c1dfd0"></div>
<div class="t" style="left:3203.0px;top:1467.9px;line-height:27.40px"><div class="n" style="height:27.40px">HRS-9190</div><div class="i" style="height:27.40px"><span class="c">全麻诱导维持的骨骼肌松弛</span></div></div>
<svg class="s" style="left:3484.0px;top:715.0px" width="40.0" height="40.0" viewBox="-20 -20 40 40"><polygon points="0.00,-15.20 5.41,-5.84 15.98,-3.59 8.75,4.44 9.87,15.19 0.00,10.80 -9.87,15.19 -8.75,4.44 -15.98,-3.59 -5.41,-5.84" fill="#bf4e3d" stroke="#bf4e3d" stroke-width="1" stroke-linejoin="round"/></svg>
<div class="b" style="left:3538.4px;top:595.0px;height:115.6px;width:16.2px;background:#07377f"></div>
<div class="t" style="left:3566.0px;top:596.9px;line-height:27.40px"><div class="n" style="height:27.40px"><span class="c">奥特康唑</span></div><div class="n" style="height:27.40px;letter-spacing:-0.5px">CYP51</div><div class="i" style="height:27.40px">VVC</div></div>
<div class="b" style="left:3538.4px;top:718.0px;height:98.8px;width:16.2px;background:#07377f"></div>
<div class="t" style="left:3566.0px;top:719.9px;line-height:27.40px"><div class="n" style="height:27.40px">SHR8058 *</div><div class="n" style="height:27.40px"><span class="c">全氟己基辛烷</span></div><div class="i" style="height:27.40px">DED</div></div>
<div class="b" style="left:3538.4px;top:827.0px;height:98.8px;width:16.2px;background:#7abffc"></div>
<div class="t" style="left:3566.0px;top:827.9px;line-height:27.40px"><div class="n" style="height:27.40px">HRS-8427</div><div class="n" style="height:27.40px"><span class="c">头孢地尔衍生物</span></div><div class="i" style="height:27.40px">cUTI / <span class="c">肺部感染</span></div></div>
<div class="b" style="left:3538.4px;top:933.6px;height:98.8px;width:16.2px;background:#7abffc"></div>
<div class="t" style="left:3566.0px;top:935.5px;line-height:27.40px"><div class="n" style="height:27.40px">SHR7280</div><div class="n" style="height:27.40px">GnRH</div><div class="i" style="height:27.40px">COH</div></div>
<div class="b" style="left:3538.4px;top:1040.6px;height:98.8px;width:16.2px;background:#2f917a"></div>
<div class="t" style="left:3566.0px;top:1042.1px;line-height:27.20px"><div class="n" style="height:27.20px">HRS5580</div><div class="n" style="height:27.20px">NK1</div><div class="i" style="height:27.20px">PONV</div></div>
<div class="b" style="left:3538.4px;top:1147.0px;height:98.8px;width:16.2px;background:#2f917a"></div>
<div class="t" style="left:3566.0px;top:1148.9px;line-height:27.40px"><div class="n" style="height:27.40px">HRS9432</div><div class="n" style="height:27.40px"><span class="c">阿尼芬净衍生物</span></div><div class="i" style="height:27.40px"><span class="c">念珠菌病</span></div></div>
<div class="b" style="left:3538.4px;top:1254.0px;height:98.8px;width:16.2px;background:#2f917a"></div>
<div class="t" style="left:3566.0px;top:1255.5px;line-height:27.40px"><div class="n" style="height:27.40px">HRS-5635</div><div class="n" style="height:27.40px">HBV siRNA</div><div class="i" style="height:27.40px">CHB</div></div>
<div class="b" style="left:3538.4px;top:1361.0px;height:98.8px;width:16.2px;background:#c1dfd0"></div>
<div class="t" style="left:3566.0px;top:1362.3px;line-height:28.00px"><div class="n" style="height:28.00px">HRS-2183</div><div class="i" style="height:28.00px">GNB<span class="c">感染</span></div></div>
<div class="lsh"></div><div class="lbox"></div>
<div class="b" style="left:2591.8px;top:2009.3px;height:29.8px;width:12.3px;background:#07377f"></div><div class="lg" style="left:2621.0px;top:2009.0px"><span class="cb">已商业化</span></div>
<div class="b" style="left:2822.4px;top:2006.4px;height:29.6px;width:12.3px;background:#2274f3"></div><div class="lg" style="left:2851.0px;top:2007.5px"><span class="cb">已递交新药上市申请</span></div>
<div class="b" style="left:3173.0px;top:2009.3px;height:29.8px;width:12.3px;background:#7abffc"></div><div class="lg" style="left:3200.6px;top:2010.0px">III<span class="cb">期</span></div>
<div class="b" style="left:3410.0px;top:2009.3px;height:29.8px;width:12.3px;background:#2f917a"></div><div class="lg" style="left:3437.0px;top:2010.0px">II<span class="cb">期</span></div>
<div class="b" style="left:3640.0px;top:2009.3px;height:29.8px;width:12.3px;background:#c1dfd0"></div><div class="lg" style="left:3668.0px;top:2010.0px">I<span class="cb">期</span></div>
<svg class="s" style="left:2602.7px;top:2071.5px" width="37.9" height="37.9" viewBox="-20 -20 40 40"><polygon points="0.00,-15.20 5.41,-5.84 15.98,-3.59 8.75,4.44 9.87,15.19 0.00,10.80 -9.87,15.19 -8.75,4.44 -15.98,-3.59 -5.41,-5.84" fill="#bf4e3d" stroke="#bf4e3d" stroke-width="1" stroke-linejoin="round"/></svg>
<svg class="s" style="left:3107.4px;top:2070.0px" width="37.9" height="37.9" viewBox="-20 -20 40 40"><polygon points="0.00,-15.20 5.41,-5.84 15.98,-3.59 8.75,4.44 9.87,15.19 0.00,10.80 -9.87,15.19 -8.75,4.44 -15.98,-3.59 -5.41,-5.84" fill="#ffc000" stroke="#ffc000" stroke-width="1" stroke-linejoin="round"/></svg>
<svg class="s" style="left:3442.5px;top:2073.0px" width="37.9" height="37.9" viewBox="-20 -20 40 40"><polygon points="0.00,-15.20 5.41,-5.84 15.98,-3.59 8.75,4.44 9.87,15.19 0.00,10.80 -9.87,15.19 -8.75,4.44 -15.98,-3.59 -5.41,-5.84" fill="#ea7b33" stroke="#ea7b33" stroke-width="1" stroke-linejoin="round"/></svg><div class="lg" style="left:2659.0px;top:2076.0px"><span class="cb">国家药监局突破性疗法认定</span>/<span class="cb">优先审评</span></div><div class="lg" style="left:3164.0px;top:2074.5px"><span class="cb">美国</span>FDA<span class="cb">快速通道认定</span></div><div class="lg" style="left:3498.0px;top:2076.0px"><span class="cb">美国</span>FDA/EMA<span class="cb">孤儿药认定</span></div>
<svg class="abs" style="left:200px;top:2140px" width="240" height="140" viewBox="0 0 2481 1447">
<defs><linearGradient id="gold" gradientUnits="userSpaceOnUse" x1="740" y1="0" x2="1230" y2="0" gradientTransform="rotate(-28 981 615)">
<stop offset="0" stop-color="#e9a21f"/><stop offset="0.2" stop-color="#ffd43e"/><stop offset="0.38" stop-color="#e28c29"/><stop offset="0.55" stop-color="#dd7f27"/><stop offset="0.7" stop-color="#ffd640"/><stop offset="0.88" stop-color="#f3ae27"/><stop offset="1" stop-color="#c5741b"/></linearGradient></defs>
<ellipse cx="1182" cy="712" rx="1018" ry="608" fill="#17458f"/>
<g fill="#fff">
<path d="M905 258H1205C1120 300 1060 370 1010 460L560 1260L300 1130L700 480C760 370 820 290 905 258Z"/>
<path d="M1262 258H1572C1500 300 1440 380 1395 470L1062 995H790L1075 460C1120 370 1180 300 1262 258Z"/>
<path d="M1622 258L1850 240H2100L2075 420L1795 372L1432 995H1150L1450 470C1500 380 1560 300 1622 258Z"/>
<circle cx="1928" cy="412" r="146"/>
</g>
<ellipse cx="981" cy="615" rx="275" ry="120" transform="rotate(-28 981 615)" fill="url(#gold)"/>
</svg>

<div class="fn" style="top:2204.9px"><span class="c">注：截至</span>2025<span class="c">年</span>6<span class="c">月</span>30<span class="c">日</span></div>
<div class="fn" style="top:2232.9px">* <span class="c">报告期内获批的三类药品</span></div>
<div class="fn f3" style="top:2260.9px">1. <span class="c">该列表为不完全列表；</span>2. <span class="c">各产品</span> / <span class="c">在研产品的临床阶段指其进展最快的适应症的临床阶段；</span>3. <span class="c">自</span>2018<span class="c">年至</span>2025<span class="c">年</span>6<span class="c">月</span>30<span class="c">日获得的监管促进路径认定</span></div>
</body></html>
